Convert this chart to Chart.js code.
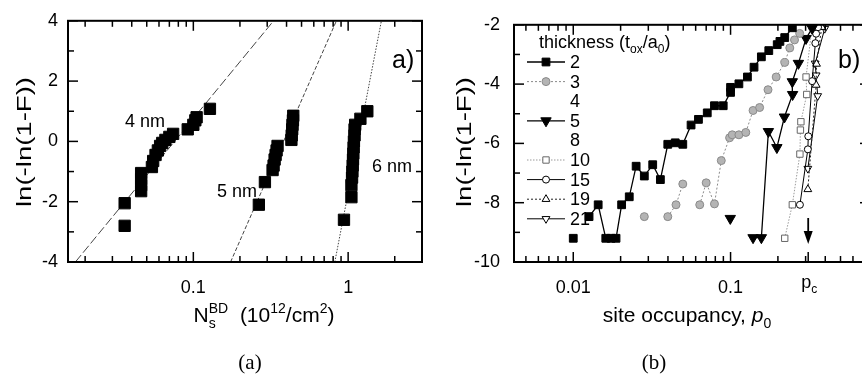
<!DOCTYPE html>
<html>
<head>
<meta charset="utf-8">
<title>breakdown statistics</title>
<script src="https://cdn.jsdelivr.net/npm/chart.js"></script>
<style>
html,body{margin:0;padding:0;background:#fff;overflow:hidden;width:862px;height:380px;position:relative}
#wa{position:absolute;left:0;top:0;width:431px;height:380px}
#wb{position:absolute;left:431px;top:0;width:460px;height:380px}
</style>
</head>
<body>
<div id="wa"><canvas id="ca" width="431" height="380"></canvas></div>
<div id="wb"><canvas id="cb" width="460" height="380"></canvas></div>
<script>
// ---------- panel (a): Weibull plot vs breakdown density ----------
const ns4 = [0.036,0.036,0.046,0.046,0.046,0.046,0.054,0.055,0.057,0.059,0.061,0.063,0.066,0.07,0.074,0.092,0.1,0.103,0.105,0.128];
const lnF4 = [-2.8,-2.05,-1.65,-1.45,-1.25,-1.05,-0.85,-0.65,-0.45,-0.3,-0.15,-0.05,0.05,0.15,0.25,0.4,0.55,0.7,0.8,1.08];
const ns5 = [0.265,0.29,0.325,0.33,0.335,0.34,0.345,0.35,0.43,0.432,0.435,0.437,0.44,0.442];
const lnF5 = [-2.1,-1.35,-0.95,-0.8,-0.6,-0.45,-0.3,-0.15,0.05,0.2,0.4,0.55,0.7,0.85];
const ns6 = [0.94,1.05,1.05,1.06,1.065,1.07,1.075,1.08,1.085,1.09,1.1,1.1,1.11,1.2,1.33];
const lnF6 = [-2.6,-1.85,-1.45,-1.2,-1.0,-0.8,-0.6,-0.4,-0.2,0.0,0.2,0.4,0.55,0.75,1.0];
const fit4X = [0.0173,0.33], fit4Y = [-4,4];
const fit5X = [0.174,0.84], fit5Y = [-4,4];
const fit6X = [0.82,1.64], fit6Y = [-4,4];
const aXTicks = [0.1,1];
const aXMinor = [0.02,0.03,0.04,0.05,0.06,0.07,0.08,0.09,0.2,0.3,0.4,0.5,0.6,0.7,0.8,0.9,2];
const aYTicks = [-4,-2,0,2,4];
const aYMinor = [-3,-1,1,3];

// ---------- panel (b): simulation vs site occupancy ----------
const thickness = ['2','3','4','5','8','10','15','19','21'];
const p2 = [0.01,0.011,0.0126,0.0144,0.0161,0.0174,0.0187,0.0203,0.0227,0.0251,0.0283,0.032,0.0358,0.0399,0.0445,0.0497,0.0561,0.0625,0.0711,0.079,0.0898,0.1,0.1,0.113,0.128,0.141,0.157,0.175,0.198,0.206,0.221,0.247];
const f2 = [-9.2,null,-8.47,-8.07,-9.2,-9.2,-9.2,-8.07,-7.8,-6.77,-7.1,-6.72,-7.22,-6.03,-5.98,-6.03,-5.38,-5.19,-4.97,-4.73,-4.73,-4.28,-4.11,-3.99,-3.76,-3.43,-3.08,-2.87,-2.67,-2.56,-2.43,-2.1];
const p3 = [0.0283,0.03,0.0399,0.045,0.0497,0.055,0.0637,0.07,0.079,0.0873,0.0986,0.1025,0.113,0.125,0.139,0.153,0.173,0.195,0.221,0.238,0.255,0.275];
const f3 = [-8.47,null,-8.47,-8.07,-7.37,null,-8.07,-7.33,-8.04,-6.58,-5.81,-5.71,-5.71,-5.63,-4.89,-4.79,-4.19,-3.76,-3.27,-2.78,-2.51,-2.29];
const p5 = [0.0996,0.12,0.139,0.157,0.174,0.197,0.22,0.248,0.247,0.27,0.302,0.33];
const f5 = [-8.53,null,-9.18,-9.18,-5.6,-6.14,-5.11,-4.35,-3.92,-3.3,-2.46,-2.12];
const p10 = [0.221,0.247,0.276,0.278,0.28,0.305,0.302,0.33];
const f10 = [-9.2,-8.07,-6.36,-5.55,-5.27,-4.35,-3.76,-2.05];
const p15 = [0.276,0.31,0.312,0.33,0.346,0.35,0.36];
const f15 = [-8.07,-6.2,-5.76,-3.9,-2.62,-2.3,-2.08];
const p19 = [0.31,0.35,0.352,0.38];
const f19 = [-7.55,-4.03,-3.32,-2.08];
const p21 = [0.31,0.358,0.35,0.345,0.397];
const f21 = [-6.85,-4.4,-3.7,-3.3,-2.13];
const pc = 0.3116;
const bXTicks = [0.01,0.1];
const bXMinor = [0.005,0.006,0.007,0.008,0.009,0.02,0.03,0.04,0.05,0.06,0.07,0.08,0.09,0.2,0.3,0.4,0.5,0.6,0.7];
const bYTicks = [-10,-8,-6,-4,-2];
const bYMinor = [-9,-7,-5,-3];

const SANS = "'Liberation Sans', Arial, Helvetica, sans-serif";
const SERIF = "'Liberation Serif', 'Times New Roman', serif";
const pts = (xs, ys) => xs.map((x, i) => ({x: x, y: ys[i]}));

function rich(ctx, parts, x, y, size, align) {
  const sm = Math.round(size * 0.68);
  const font = p => (p.it ? 'italic ' : '') + (p.k ? sm : size) + 'px ' + SANS;
  let w = 0;
  parts.forEach(p => { ctx.font = font(p); p.w = ctx.measureText(p.t).width; if (!p.stack) w += p.w; });
  let cx = align === 'center' ? x - w / 2 : x;
  ctx.textAlign = 'left';
  ctx.textBaseline = 'alphabetic';
  parts.forEach(p => {
    ctx.font = font(p);
    const dy = p.k === 'sup' ? -size * 0.42 : p.k === 'sub' ? size * 0.3 : 0;
    ctx.fillText(p.t, cx, y + dy);
    if (!p.stack) cx += p.w;
  });
}

function yTitle(ctx, x, y, len) {
  ctx.save();
  ctx.font = '21px ' + SANS;
  const w = ctx.measureText('ln(-ln(1-F))').width;
  ctx.translate(x, y);
  ctx.rotate(-Math.PI / 2);
  ctx.scale(len / w, 1);
  ctx.textAlign = 'center';
  ctx.textBaseline = 'middle';
  ctx.fillText('ln(-ln(1-F))', 0, 0);
  ctx.restore();
}

// frame with inward ticks on all four sides
function framePlugin(xMaj, xMin, yMaj, yMin, extra) {
  return {
    id: 'frame',
    afterDraw(chart) {
      const ctx = chart.ctx, a = chart.chartArea, sx = chart.scales.x, sy = chart.scales.y;
      ctx.save();
      ctx.strokeStyle = '#000';
      ctx.lineWidth = 2;
      ctx.strokeRect(a.left, a.top, a.right - a.left, a.bottom - a.top);
      ctx.lineWidth = 1.5;
      const seg = (x1, y1, x2, y2) => { ctx.beginPath(); ctx.moveTo(x1, y1); ctx.lineTo(x2, y2); ctx.stroke(); };
      xMaj.forEach(v => { const p = sx.getPixelForValue(v); seg(p, a.bottom, p, a.bottom - 10); seg(p, a.top, p, a.top + 10); });
      xMin.forEach(v => { const p = sx.getPixelForValue(v); seg(p, a.bottom, p, a.bottom - 6); seg(p, a.top, p, a.top + 6); });
      yMaj.forEach(v => { const p = sy.getPixelForValue(v); seg(a.left, p, a.left + 10, p); seg(a.right, p, a.right - 10, p); });
      yMin.forEach(v => { const p = sy.getPixelForValue(v); seg(a.left, p, a.left + 6, p); seg(a.right, p, a.right - 6, p); });
      ctx.fillStyle = '#000';
      extra(ctx, chart, sx, sy, seg);
      ctx.restore();
    }
  };
}

function axes(xmin, xmax, ymin, ymax, xt, yt, yw, ypad) {
  return {
    x: {
      type: 'logarithmic', min: xmin, max: xmax,
      afterBuildTicks: s => { s.ticks = xt.map(v => ({value: v})); },
      afterFit: s => { s.height = 118; },
      grid: {display: false, drawTicks: false}, border: {display: false},
      ticks: {callback: v => String(v), color: '#000', font: {family: SANS, size: 18}, padding: 15, maxRotation: 0, autoSkip: false}
    },
    y: {
      type: 'linear', min: ymin, max: ymax,
      afterBuildTicks: s => { s.ticks = yt.map(v => ({value: v})); },
      afterFit: s => { s.width = yw; },
      grid: {display: false, drawTicks: false}, border: {display: false},
      ticks: {callback: v => String(v), color: '#000', font: {family: SANS, size: 18}, padding: ypad}
    }
  };
}

const sq = {showLine: false, pointStyle: 'rect', pointRadius: 8, pointBackgroundColor: '#000', pointBorderColor: '#000'};
const fitLine = dash => ({showLine: true, pointRadius: 0, borderColor: '#444', borderWidth: 1, borderDash: dash});

new Chart(document.getElementById('ca'), {
  type: 'scatter',
  data: {datasets: [
    Object.assign({data: pts(ns4, lnF4)}, sq),
    Object.assign({data: pts(ns5, lnF5)}, sq),
    Object.assign({data: pts(ns6, lnF6)}, sq),
    Object.assign({data: pts(fit4X, fit4Y)}, fitLine([9, 3])),
    Object.assign({data: pts(fit5X, fit5Y)}, fitLine([4, 2])),
    Object.assign({data: pts(fit6X, fit6Y)}, fitLine([1.5, 1.5]))
  ]},
  options: {
    responsive: false, animation: false,
    layout: {padding: {top: 16, right: 7, left: 0, bottom: 0}},
    plugins: {legend: {display: false}, tooltip: {enabled: false}},
    scales: axes(0.0155, 3, -4, 4, aXTicks, aYTicks, 68, 10)
  },
  plugins: [framePlugin(aXTicks, aXMinor, aYTicks, aYMinor, (ctx) => {
    yTitle(ctx, 25, 142, 130);
    rich(ctx, [{t: 'N'}, {t: 's', k: 'sub', stack: true}, {t: 'BD', k: 'sup'}, {t: '  (10'}, {t: '12', k: 'sup'}, {t: '/cm'}, {t: '2', k: 'sup'}, {t: ')'}], 264, 322, 21, 'center');
    ctx.font = '18px ' + SANS;
    ctx.textAlign = 'center';
    ctx.textBaseline = 'middle';
    ctx.fillText('4 nm', 145, 122);
    ctx.fillText('5 nm', 237, 192);
    ctx.fillText('6 nm', 392, 167);
    ctx.font = '25px ' + SANS;
    ctx.textAlign = 'left';
    ctx.fillText('a)', 392, 61);
    ctx.font = '21px ' + SERIF;
    ctx.textAlign = 'center';
    ctx.fillText('(a)', 250, 363);
  })]
});

// panel (b) series styles
const bSeries = [
  {lab: '2', x: p2, y: f2, line: '#000', dash: [], ps: 'rect', r: 5.5, rot: 0, fill: '#000', edge: '#000', lw: 1.3},
  {lab: '3', x: p3, y: f3, line: '#8a8a8a', dash: [2, 2], ps: 'circle', r: 4, rot: 0, fill: '#b4b4b4', edge: '#8a8a8a', lw: 1},
  {lab: '5', x: p5, y: f5, line: '#000', dash: [], ps: 'triangle', r: 6, rot: 180, fill: '#000', edge: '#000', lw: 1.3},
  {lab: '10', x: p10, y: f10, line: '#9a9a9a', dash: [1.5, 1.5], ps: 'rect', r: 4.5, rot: 0, fill: '#fff', edge: '#666', lw: 1},
  {lab: '15', x: p15, y: f15, line: '#000', dash: [], ps: 'circle', r: 3.5, rot: 0, fill: '#fff', edge: '#000', lw: 1},
  {lab: '19', x: p19, y: f19, line: '#222', dash: [2, 2], ps: 'triangle', r: 4.5, rot: 0, fill: '#fff', edge: '#000', lw: 1},
  {lab: '21', x: p21, y: f21, line: '#000', dash: [], ps: 'triangle', r: 4.5, rot: 180, fill: '#fff', edge: '#000', lw: 1}
];

new Chart(document.getElementById('cb'), {
  type: 'scatter',
  data: {datasets: bSeries.map(s => ({
    label: s.lab, data: pts(s.x, s.y), showLine: true, spanGaps: false,
    borderColor: s.line, borderWidth: s.lw, borderDash: s.dash,
    pointStyle: s.ps, pointRadius: s.r, pointRotation: s.rot,
    pointBackgroundColor: s.fill, pointBorderColor: s.edge, pointBorderWidth: 1
  }))},
  options: {
    responsive: false, animation: false,
    layout: {padding: {top: 16, right: 21, left: 0, bottom: 0}},
    plugins: {legend: {display: false}, tooltip: {enabled: false}},
    scales: axes(0.0042, 0.77, -10, -2, bXTicks, bYTicks, 83, 14)
  },
  plugins: [framePlugin(bXTicks, bXMinor, bYTicks, bYMinor, (ctx, chart, sx, sy, seg) => {
    const a = chart.chartArea;
    const px = sx.getPixelForValue(pc);
    seg(px, a.bottom, px, a.bottom - 10);
    // arrow marking the percolation threshold
    ctx.lineWidth = 1.8;
    seg(px, 218, px, 236);
    ctx.beginPath();
    ctx.moveTo(px - 4.5, 231); ctx.lineTo(px + 4.5, 231); ctx.lineTo(px, 244); ctx.closePath(); ctx.fill();
    rich(ctx, [{t: 'p'}, {t: 'c', k: 'sub'}], px + 1, 288, 18, 'center');
    yTitle(ctx, 34, 142, 130);
    rich(ctx, [{t: 'site occupancy, '}, {t: 'p', it: true}, {t: '0', k: 'sub'}], 256, 322, 21, 'center');
    ctx.font = '25px ' + SANS;
    ctx.textAlign = 'left';
    ctx.textBaseline = 'middle';
    ctx.fillText('b)', 407, 61);
    ctx.font = '21px ' + SERIF;
    ctx.textAlign = 'center';
    ctx.fillText('(b)', 223, 363);
    // legend
    rich(ctx, [{t: 'thickness (t'}, {t: 'ox', k: 'sub'}, {t: '/a'}, {t: '0', k: 'sub'}, {t: ')'}], 108, 48, 18, 'left');
    thickness.forEach((lab, i) => {
      const yy = 62 + i * 19.6;
      ctx.font = '18px ' + SANS;
      ctx.textAlign = 'left';
      ctx.textBaseline = 'middle';
      ctx.fillStyle = '#000';
      ctx.fillText(lab, 139, yy + 1);
      const s = bSeries.find(b => b.lab === lab);
      if (!s) return;
      ctx.strokeStyle = s.line;
      ctx.lineWidth = s.lw;
      ctx.setLineDash(s.dash);
      seg(96, yy, 134, yy);
      ctx.setLineDash([]);
      ctx.fillStyle = s.fill;
      ctx.strokeStyle = s.edge;
      ctx.lineWidth = 1;
      Chart.helpers.drawPoint(ctx, {pointStyle: s.ps, radius: s.r, rotation: s.rot, borderWidth: 1}, 115, yy);
      ctx.fillStyle = '#000';
    });
  })]
});
</script>
</body>
</html>
